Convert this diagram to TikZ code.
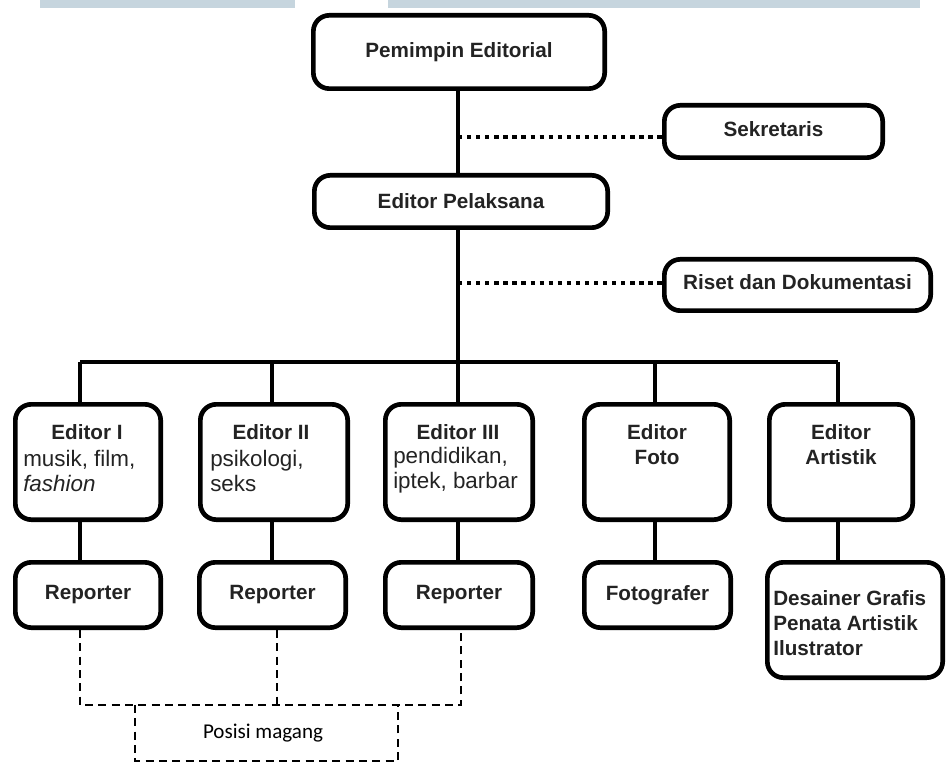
\documentclass[tikz,border=0pt]{standalone}
\usepackage{fontspec}
\setmainfont{Liberation Sans}
\newfontfamily\calib{Carlito}
\usetikzlibrary{calc}
\definecolor{barblue}{RGB}{198,213,222}
\definecolor{txt}{RGB}{35,35,35}
\begin{document}
\begin{tikzpicture}[x=0.75pt,y=-0.75pt,
  box/.style={draw=black, line width=3.5pt, rounded corners=12pt, inner sep=0pt, fill=white, text=txt,
    font=\fontsize{15.5}{18.75}\selectfont\bfseries},
  bx/.style 2 args={minimum width=#1*0.75pt-3.5pt, minimum height=#2*0.75pt-3.5pt},
  conn/.style={line width=2.6pt},
  dotline/.style={line width=3.4pt, dash pattern=on 3.2pt off 3.6pt},
  dashline/.style={line width=1.1pt, dash pattern=on 6pt off 4pt},
  btxt/.style={text=txt, inner sep=0pt, font=\fontsize{15.5}{18.75}\selectfont\bfseries, align=center},
  btxtl/.style={text=txt, inner sep=0pt, font=\fontsize{15.5}{18.75}\selectfont\bfseries, align=left},
  rtxt/.style={text=txt, inner sep=0pt, font=\fontsize{16.8}{18.75}\selectfont, align=left},
]
\useasboundingbox (0,0) rectangle (947,763);
\fill[white] (0,0) rectangle (947,763);
% top bars
\fill[barblue] (40,0) rectangle (295,8);
\fill[barblue] (388,0) rectangle (920,8);

% upper boxes
\node[box, bx={296}{78}] (pe) at (459,52) {Pemimpin Editorial};
\node[box, bx={223}{57}] (se) at (773.5,131.5) {\raisebox{3pt}{Sekretaris}};
\node[box, bx={298}{57}] (pl) at (461,201.5) {Editor Pelaksana};
\node[box, bx={271}{56}] (ri) at (797.5,285) {\raisebox{4pt}{Riset dan Dokumentasi}};

% editor boxes
\node[box, bx={150}{120}] (e1) at (88,462) {};
\node[box, bx={152}{120}] (e2) at (274,462) {};
\node[box, bx={152}{120}] (e3) at (459,462) {};
\node[box, bx={150}{120}] (e4) at (657,462) {};
\node[box, bx={148}{120}] (e5) at (841,462) {};

\node[btxt] (e1t) at (87,432) {Editor I};
\node[rtxt, anchor=west] (e1s) at (23,470.5) {musik, film,\\\textit{fashion}};
\node[btxt] (e2t) at (271,432) {Editor II};
\node[rtxt, anchor=west] (e2s) at (210,470.5) {psikologi,\\seks};
\node[btxt] (e3t) at (458,432) {Editor III};
\node[rtxt, anchor=west] (e3s) at (393,470.5) {pendidikan,\\iptek, barbar};
\node[btxt] (e4t) at (657,445) {Editor\\Foto};
\node[btxt] (e5t) at (841,445) {Editor\\Artistik};

% lower boxes
\node[box, bx={150}{70}] (r1) at (88,595) {Reporter};
\node[box, bx={151}{70}] (r2) at (272.5,595) {Reporter};
\node[box, bx={152}{70}] (r3) at (459,595) {Reporter};
\node[box, bx={151}{70}] (fo) at (657.5,595) {Fotografer};
\node[box, bx={180}{120}] (de) at (855,620) {};
\node[btxtl, anchor=west] (det) at (773,623) {Desainer Grafis\\Penata Artistik\\Ilustrator};

% trunk
\coordinate (b1) at (80,362);
\coordinate (b2) at (272,362);
\coordinate (b3) at (458,362);
\coordinate (b4) at (655,362);
\coordinate (b5) at (838,362);
\draw[conn] (pe.south -| b3) -- (b3 |- pl.north);
\draw[conn] (b3 |- pl.south) -- (b3);
\draw[conn] (b1) -- (b5);
\foreach \b/\e in {b1/e1,b2/e2,b3/e3,b4/e4,b5/e5}{
  \draw[conn] (\b) -- (\b |- \e.north);
}
\draw[conn] (e1.south -| b1) -- (r1.north -| b1);
\draw[conn] (e2.south -| b2) -- (r2.north -| b2);
\draw[conn] (e3.south -| b3) -- (r3.north -| b3);
\draw[conn] (e4.south -| b4) -- (fo.north -| b4);
\draw[conn] (e5.south -| b5) -- (de.north -| b5);

% dotted staff lines
\coordinate (t1) at (458,137);
\coordinate (t2) at (458,283);
\draw[dotline] (t1) -- (t1 -| se.west);
\draw[dotline] (t2) -- (t2 -| ri.west);

% dashed intern lines
\coordinate (d1) at (80,705);
\coordinate (d2) at (277,705);
\coordinate (d3) at (461,705);
\draw[dashline] (r1.south -| d1) -- (d1) -- (d3) -- (d3 |- r3.south);
\draw[dashline] (r2.south -| d2) -- (d2);
\coordinate (m1) at (135,705);
\coordinate (m2) at (398,761);
\draw[dashline] (m1) -- (m1 |- m2) -- (m2) -- (m2 |- m1);
\node[inner sep=0pt, font=\calib\fontsize{15.8}{18}\selectfont] (pm) at (263,733) {Posisi magang};
\end{tikzpicture}
\end{document}
